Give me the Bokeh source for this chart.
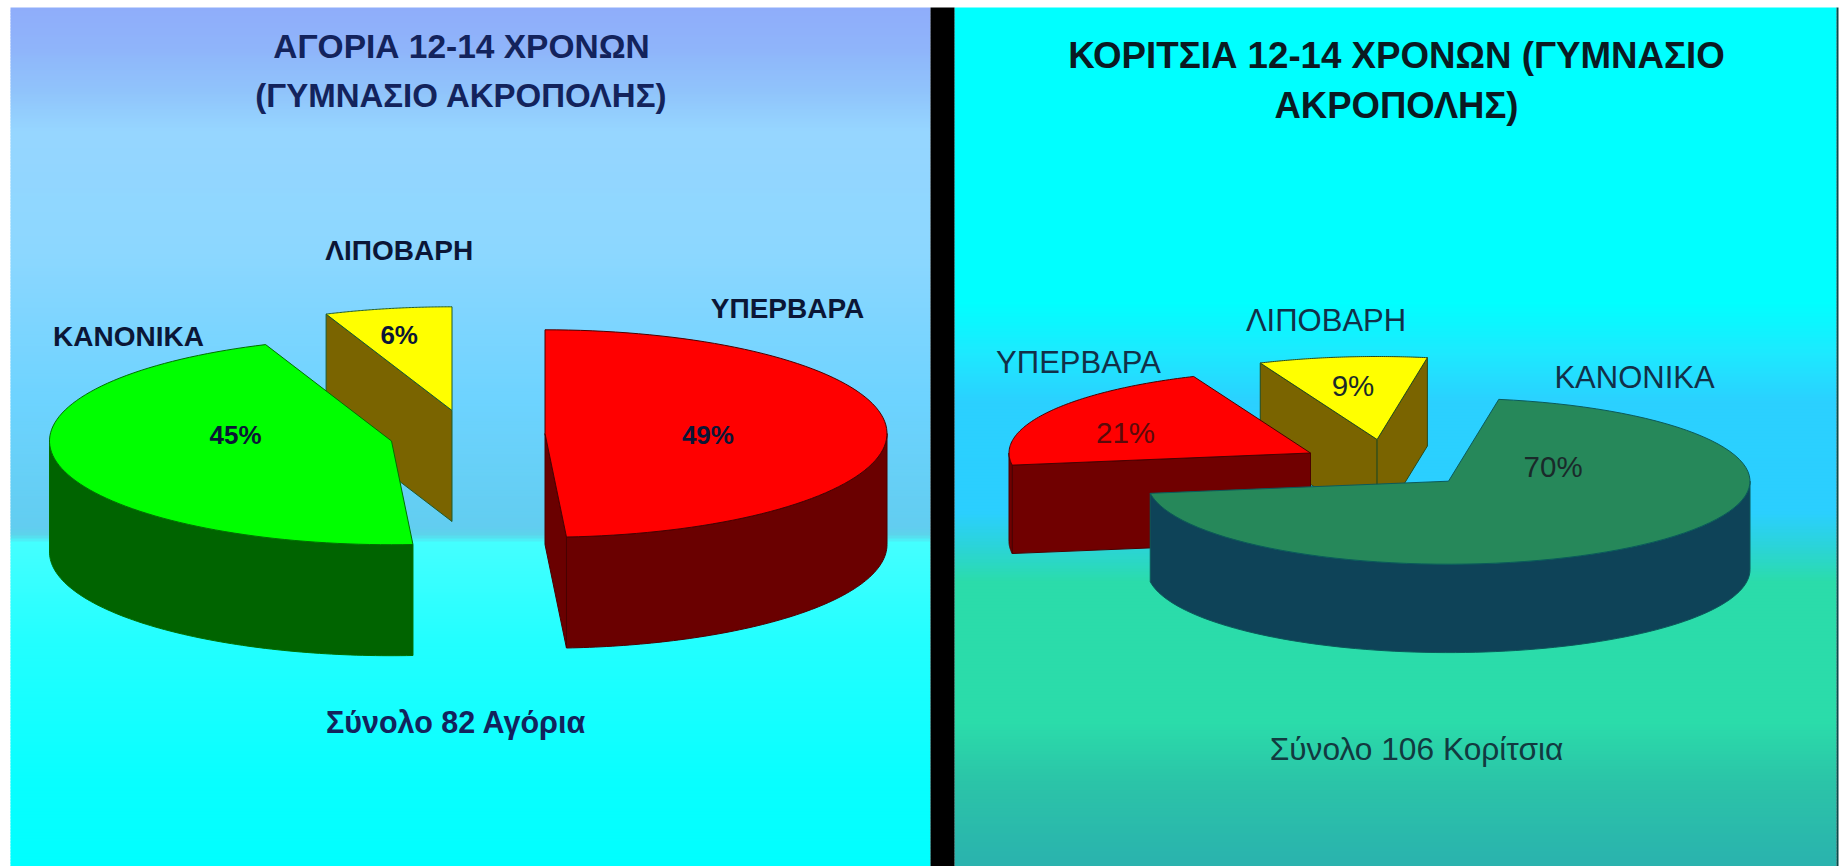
import numpy as np
from bokeh.plotting import figure
from bokeh.models import Range1d
from bokeh.core.properties import value
from bokeh.embed import file_html
from bokeh.resources import INLINE

# ---- data ----
boys_labels = ["ΥΠΕΡΒΑΡΑ", "ΚΑΝΟΝΙΚΑ", "ΛΙΠΟΒΑΡΗ"]
boys_values = [49, 45, 6]
boys_title = ["ΑΓΟΡΙΑ 12-14 ΧΡΟΝΩΝ", "(ΓΥΜΝΑΣΙΟ ΑΚΡΟΠΟΛΗΣ)"]
boys_total = "Σύνολο 82 Αγόρια"

girls_labels = ["ΚΑΝΟΝΙΚΑ", "ΥΠΕΡΒΑΡΑ", "ΛΙΠΟΒΑΡΗ"]
girls_values = [70, 21, 9]
girls_title = ["ΚΟΡΙΤΣΙΑ 12-14 ΧΡΟΝΩΝ (ΓΥΜΝΑΣΙΟ", "ΑΚΡΟΠΟΛΗΣ)"]
girls_total = "Σύνολο 106 Κορίτσια"

# ---- layout / style (reference pixel coordinates) ----
W, H = 1840, 866
FONT = value("Liberation Sans")

boys_style = dict(start=90.0, a=342.0, b=103.7, depth=111.0,
    centers=[(544.5, 433.0), (391.0, 440.5), (451.5, 410.0)],
    top=["#ff0000", "#00ff00", "#ffff00"],
    side=["#6a0000", "#006400", "#7a6400"],
    edge=["#4a0000", "#007000", "#1f5a2a"],
    label_xy=[(787, 308), (128, 336), (398.7, 250)],
    pct_xy=[(707.4, 434), (235, 434), (398.7, 334)])
girls_style = dict(start=80.4, a=301.5, b=83.0, depth=88.4,
    centers=[(1448.0, 480.7), (1310.0, 452.5), (1376.6, 439.0)],
    top=["#26885a", "#ff0000", "#ffff00"],
    side=["#0e4358", "#700000", "#7a6400"],
    edge=["#0b5a5a", "#4a0000", "#2a4a1a"],
    label_xy=[(1634, 377), (1078, 362), (1325.5, 320)],
    pct_xy=[(1552.6, 466), (1125, 432), (1352.5, 385)])

left_grad_y = [7, 45, 90, 130, 250, 400, 525, 533, 541, 640, 780, 866]
left_grad_c = ["#8fadfa", "#8fb4fa", "#90c4fb", "#96d6ff", "#8cd7ff", "#6dd3ff",
               "#62cdf0", "#5cd4ea", "#44ffff", "#22ffff", "#08ffff", "#00ffff"]
right_grad_y = [7, 300, 350, 400, 510, 545, 580, 720, 780, 866]
right_grad_c = ["#00ffff", "#00ffff", "#1ceaff", "#2bd0ff", "#2bcfff", "#2bd4d8",
                "#2bdcaa", "#2bdcaa", "#2bc4a8", "#2ab2ae"]


def rgb(c):
    return [int(c[i:i + 2], 16) for i in (1, 3, 5)]


def gradient(p, x0, x1, ys, cs, step=3):
    arr = np.array([rgb(c) for c in cs], float)
    rows = np.arange(ys[0], ys[-1], step)
    colors = []
    for y in rows:
        col = [int(round(np.interp(y, ys, arr[:, k]))) for k in range(3)]
        colors.append("#%02x%02x%02x" % tuple(col))
    p.quad(left=x0, right=x1, top=rows, bottom=rows + step + 1,
           fill_color=colors, line_color=None)


def arc(cx, cy, a, b, t0, t1, n=90):
    t = np.radians(np.linspace(t0, t1, n))
    return cx + a * np.cos(t), cy - b * np.sin(t)


def pie(p, vals, st, order):
    a, b, d = st["a"], st["b"], st["depth"]
    angle = st["start"]
    spans = []
    for v in vals:
        spans.append((angle, angle - v * 3.6))
        angle -= v * 3.6
    for i in order:
        cx, cy = st["centers"][i]
        t0, t1 = spans[i]
        lc = st["edge"][i]
        # cut faces seen from the front
        for th, visible in ((t0, np.cos(np.radians(t0)) < -1e-6), (t1, np.cos(np.radians(t1)) > 1e-6)):
            if visible:
                ex, ey = arc(cx, cy, a, b, th, th, 1)
                p.patch([cx, ex[0], ex[0], cx], [cy, ey[0], ey[0] + d, cy + d],
                        fill_color=st["side"][i], line_color=lc, line_width=1)
        # outer wall: front half of the ellipse
        for k0, k1 in ((0, -180), (360, 180), (-360, -540)):
            lo, hi = max(min(t0, t1), k1), min(max(t0, t1), k0)
            if hi > lo:
                ax, ay = arc(cx, cy, a, b, hi, lo)
                p.patch(np.r_[ax, ax[::-1]], np.r_[ay, ay[::-1] + d],
                        fill_color=st["side"][i], line_color=lc, line_width=1)
        # top face
        ax, ay = arc(cx, cy, a, b, t0, t1)
        p.patch(np.r_[cx, ax], np.r_[cy, ay],
                fill_color=st["top"][i], line_color=lc, line_width=1)


def txt(p, x, y, s, size, color, bold=True):
    p.text([x], [y], text=[s], text_font=FONT, text_font_size=f"{size}px",
           text_font_style="bold" if bold else "normal", text_color=color,
           text_align="center", text_baseline="middle")


p = figure(width=W, height=H, x_range=Range1d(0, W), y_range=Range1d(H, 0),
           output_backend="svg", toolbar_location=None, min_border=0,
           background_fill_color="white", border_fill_color="white", outline_line_color=None)
p.xaxis.visible = False
p.yaxis.visible = False
p.grid.visible = False

gradient(p, 10, 930, left_grad_y, left_grad_c)
gradient(p, 954, 1836, right_grad_y, right_grad_c)
p.quad(left=[930], right=[954], top=[7], bottom=[866], fill_color="#000000", line_color=None)
p.quad(left=[1836], right=[1838], top=[7], bottom=[866], fill_color="#0a4a4a", line_color=None)

pie(p, boys_values, boys_style, [2, 0, 1])
pie(p, girls_values, girls_style, [2, 1, 0])

NAVY, INK, TEAL = "#13235c", "#0b1636", "#123048"
txt(p, 461, 46, boys_title[0], 33.5, NAVY)
txt(p, 461, 95, boys_title[1], 33, NAVY)
for lab, (x, y) in zip(boys_labels, boys_style["label_xy"]):
    txt(p, x, y, lab, 28, INK)
for v, (x, y) in zip(boys_values, boys_style["pct_xy"]):
    txt(p, x, y, f"{v}%", 26, INK)
txt(p, 455.6, 721, boys_total, 30.5, NAVY)

txt(p, 1396, 55, girls_title[0], 36.7, "#0a1a22")
txt(p, 1396, 105, girls_title[1], 36.5, "#0a1a22")
for lab, (x, y) in zip(girls_labels, girls_style["label_xy"]):
    txt(p, x, y, lab, 31, TEAL, bold=False)
for v, (x, y) in zip(girls_values, girls_style["pct_xy"]):
    txt(p, x, y, f"{v}%", 29.5, "#1a2a2a" if v != 21 else "#5a0a0a", bold=False)
txt(p, 1416, 748.6, girls_total, 31.7, "#123a40", bold=False)

open("out.html", "w").write(file_html(p, INLINE))
